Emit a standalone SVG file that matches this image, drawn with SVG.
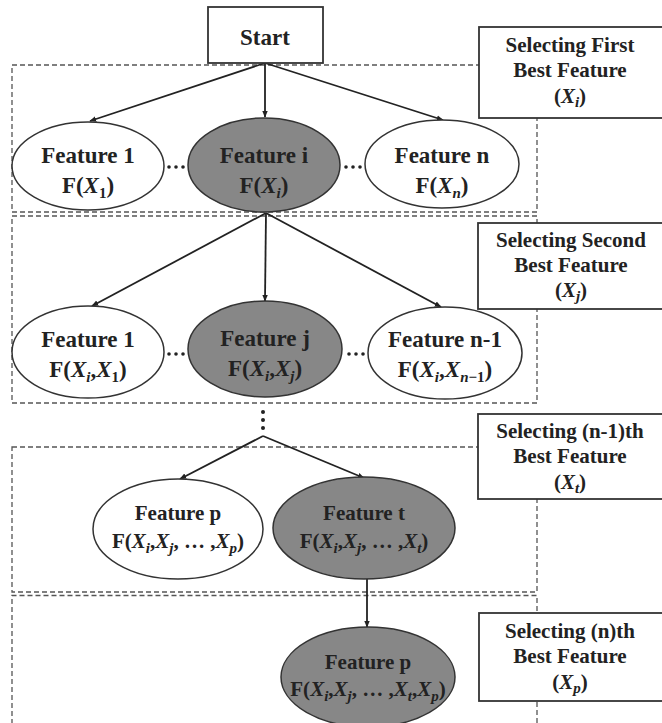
<svg xmlns="http://www.w3.org/2000/svg" width="662" height="723" viewBox="0 0 662 723">
  <style>
    .bg { fill: #ffffff; }
    .box { fill: #ffffff; stroke: #333333; stroke-width: 1.8; }
    .region { fill: none; stroke: #555555; stroke-width: 1.3; stroke-dasharray: 5 3; }
    .ell { fill: #ffffff; stroke: #333333; stroke-width: 1.5; }
    .ell.sel { fill: #878787; }
    .t { font-family: "Liberation Serif", "Times New Roman", serif; font-weight: bold; font-size: 23px; fill: #222222; text-anchor: middle; }
    .t.small { font-size: 21px; }
    .lab { font-family: "Liberation Serif", "Times New Roman", serif; font-weight: bold; font-size: 21px; fill: #222222; text-anchor: middle; }
    .m { font-style: italic; }
    .s { font-size: 15px; }
    .edge { stroke: #222222; stroke-width: 1.8; fill: none; marker-end: url(#arrow); }
    .dot { fill: #222222; }
  </style>
  <defs>
    <marker id="arrow" viewBox="0 0 10 10" refX="9" refY="5" markerWidth="7" markerHeight="7" orient="auto" markerUnits="userSpaceOnUse">
      <path d="M0,1 L10,5 L0,9 z" fill="#222222"/>
    </marker>
  </defs>
  <rect class="bg" x="0" y="0" width="662" height="723"/>

  <!-- dashed stage regions -->
  <g id="regions">
    <rect class="region" x="12" y="65" width="525" height="147"/>
    <rect class="region" x="12" y="216" width="525" height="187"/>
    <rect class="region" x="12" y="447" width="525" height="145"/>
    <path class="region" d="M12,740 V595.5 H537 V740"/>
  </g>

  <!-- connectors -->
  <g id="connectors">
    <line class="edge" x1="265" y1="63" x2="90" y2="121"/>
    <line class="edge" x1="265" y1="63" x2="265" y2="117"/>
    <line class="edge" x1="265" y1="63" x2="443" y2="120"/>
    <line class="edge" x1="266" y1="213" x2="92" y2="306"/>
    <line class="edge" x1="266" y1="213" x2="265" y2="301"/>
    <line class="edge" x1="266" y1="213" x2="441" y2="307"/>
    <line class="edge" x1="263" y1="436" x2="180" y2="479"/>
    <line class="edge" x1="263" y1="436" x2="364" y2="478"/>
    <line class="edge" x1="367" y1="579" x2="367" y2="627"/>
  </g>

  <g id="ellipsis-marks">
    <circle class="dot" cx="169" cy="167" r="1.8"/><circle class="dot" cx="176" cy="167" r="1.8"/><circle class="dot" cx="183" cy="167" r="1.8"/>
    <circle class="dot" cx="346" cy="167" r="1.8"/><circle class="dot" cx="353" cy="167" r="1.8"/><circle class="dot" cx="360" cy="167" r="1.8"/>
    <circle class="dot" cx="169" cy="354" r="1.8"/><circle class="dot" cx="176" cy="354" r="1.8"/><circle class="dot" cx="183" cy="354" r="1.8"/>
    <circle class="dot" cx="349" cy="354" r="1.8"/><circle class="dot" cx="356" cy="354" r="1.8"/><circle class="dot" cx="363" cy="354" r="1.8"/>
    <circle class="dot" cx="263" cy="412" r="2"/><circle class="dot" cx="263" cy="420" r="2"/><circle class="dot" cx="263" cy="428" r="2"/>
  </g>

  <g id="start">
    <rect class="box" x="208" y="7" width="115" height="56"/>
    <text class="t" x="265" y="45">Start</text>
  </g>

  <!-- stage labels -->
  <g id="label-first">
    <rect class="box" x="479" y="27" width="190" height="91"/>
    <text class="lab" x="570" y="52">Selecting First</text>
    <text class="lab" x="570" y="77">Best Feature</text>
    <text class="lab" x="570" y="103">(<tspan class="m">X</tspan><tspan class="s m" dy="4">i</tspan><tspan dy="-4">)</tspan></text>
  </g>
  <g id="label-second">
    <rect class="box" x="478" y="223" width="190" height="86"/>
    <text class="lab" x="571" y="247">Selecting Second</text>
    <text class="lab" x="571" y="272">Best Feature</text>
    <text class="lab" x="571" y="297">(<tspan class="m">X</tspan><tspan class="s m" dy="4">j</tspan><tspan dy="-4">)</tspan></text>
  </g>
  <g id="label-n1">
    <rect class="box" x="478" y="414" width="190" height="85"/>
    <text class="lab" x="570" y="438">Selecting (n-1)th</text>
    <text class="lab" x="570" y="463">Best Feature</text>
    <text class="lab" x="570" y="489">(<tspan class="m">X</tspan><tspan class="s m" dy="4">t</tspan><tspan dy="-4">)</tspan></text>
  </g>
  <g id="label-n">
    <rect class="box" x="479" y="613" width="190" height="88"/>
    <text class="lab" x="570" y="638">Selecting (n)th</text>
    <text class="lab" x="570" y="663">Best Feature</text>
    <text class="lab" x="570" y="689">(<tspan class="m">X</tspan><tspan class="s m" dy="4">p</tspan><tspan dy="-4">)</tspan></text>
  </g>

  <!-- first stage -->
  <g id="f1-a">
    <ellipse class="ell" cx="88" cy="166" rx="76" ry="44"/>
    <text class="t" x="88" y="163">Feature 1</text>
    <text class="t" x="88" y="193">F(<tspan class="m">X</tspan><tspan class="s" dy="5">1</tspan><tspan dy="-5">)</tspan></text>
  </g>
  <g id="fi">
    <ellipse class="ell sel" cx="264" cy="165" rx="76" ry="47"/>
    <text class="t" x="264" y="163">Feature i</text>
    <text class="t" x="264" y="193">F(<tspan class="m">X</tspan><tspan class="s m" dy="5">i</tspan><tspan dy="-5">)</tspan></text>
  </g>
  <g id="fn">
    <ellipse class="ell" cx="442" cy="164" rx="77" ry="44"/>
    <text class="t" x="442" y="163">Feature n</text>
    <text class="t" x="442" y="193">F(<tspan class="m">X</tspan><tspan class="s m" dy="5">n</tspan><tspan dy="-5">)</tspan></text>
  </g>

  <!-- second stage -->
  <g id="f1-b">
    <ellipse class="ell" cx="88" cy="352" rx="76" ry="46"/>
    <text class="t" x="88" y="347">Feature 1</text>
    <text class="t" x="88" y="377">F(<tspan class="m">X</tspan><tspan class="s m" dy="5">i</tspan><tspan dy="-5">,</tspan><tspan class="m">X</tspan><tspan class="s" dy="5">1</tspan><tspan dy="-5">)</tspan></text>
  </g>
  <g id="fj">
    <ellipse class="ell sel" cx="265" cy="349" rx="77" ry="48"/>
    <text class="t" x="265" y="346">Feature j</text>
    <text class="t" x="265" y="376">F(<tspan class="m">X</tspan><tspan class="s m" dy="5">i</tspan><tspan dy="-5">,</tspan><tspan class="m">X</tspan><tspan class="s m" dy="5">j</tspan><tspan dy="-5">)</tspan></text>
  </g>
  <g id="fn1">
    <ellipse class="ell" cx="445" cy="353" rx="77" ry="46"/>
    <text class="t" x="445" y="347">Feature n-1</text>
    <text class="t" x="445" y="377">F(<tspan class="m">X</tspan><tspan class="s m" dy="5">i</tspan><tspan dy="-5">,</tspan><tspan class="m">X</tspan><tspan class="s" dy="5"><tspan class="m">n</tspan>−1</tspan><tspan dy="-5">)</tspan></text>
  </g>

  <!-- (n-1)th stage -->
  <g id="fp-a">
    <ellipse class="ell" cx="178" cy="529" rx="85" ry="50"/>
    <text class="t small" x="178" y="520">Feature p</text>
    <text class="t small" x="178" y="548">F(<tspan class="m">X</tspan><tspan class="s m" dy="5">i</tspan><tspan dy="-5">,</tspan><tspan class="m">X</tspan><tspan class="s m" dy="5">j</tspan><tspan dy="-5">, … ,</tspan><tspan class="m">X</tspan><tspan class="s m" dy="5">p</tspan><tspan dy="-5">)</tspan></text>
  </g>
  <g id="ft">
    <ellipse class="ell sel" cx="364" cy="528" rx="91" ry="51"/>
    <text class="t small" x="364" y="520">Feature t</text>
    <text class="t small" x="364" y="548">F(<tspan class="m">X</tspan><tspan class="s m" dy="5">i</tspan><tspan dy="-5">,</tspan><tspan class="m">X</tspan><tspan class="s m" dy="5">j</tspan><tspan dy="-5">, … ,</tspan><tspan class="m">X</tspan><tspan class="s m" dy="5">t</tspan><tspan dy="-5">)</tspan></text>
  </g>

  <!-- nth stage -->
  <g id="fp-b">
    <ellipse class="ell sel" cx="368" cy="677" rx="87" ry="50"/>
    <text class="t small" x="368" y="669">Feature p</text>
    <text class="t small" x="368" y="696">F(<tspan class="m">X</tspan><tspan class="s m" dy="5">i</tspan><tspan dy="-5">,</tspan><tspan class="m">X</tspan><tspan class="s m" dy="5">j</tspan><tspan dy="-5">, … ,</tspan><tspan class="m">X</tspan><tspan class="s m" dy="5">t</tspan><tspan dy="-5">,</tspan><tspan class="m">X</tspan><tspan class="s m" dy="5">p</tspan><tspan dy="-5">)</tspan></text>
  </g>
</svg>
